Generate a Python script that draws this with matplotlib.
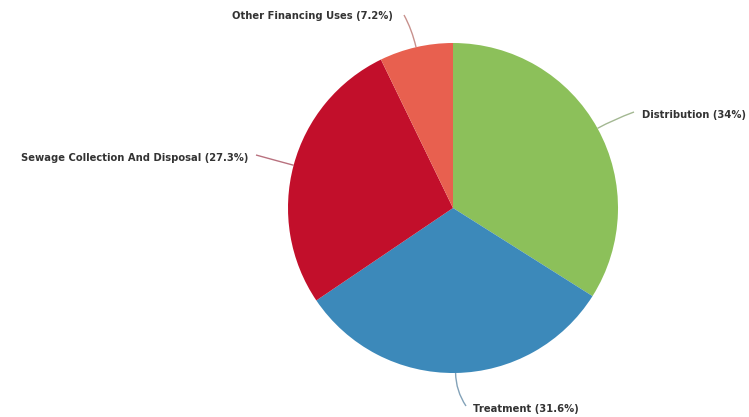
import matplotlib
matplotlib.use("Agg")
import matplotlib.pyplot as plt
import numpy as np
from matplotlib.path import Path
from matplotlib.patches import PathPatch
from matplotlib.colors import to_rgb

categories = ["Distribution", "Treatment", "Sewage Collection And Disposal", "Other Financing Uses"]
shares = [34.0, 31.6, 27.3, 7.2]
pct_labels = ["34%", "31.6%", "27.3%", "7.2%"]
colors = ["#8cc05a", "#3c89ba", "#c20f2b", "#e8604f"]

W, H = 749, 417
fig = plt.figure(figsize=(W / 100, H / 100), dpi=100)
ax = fig.add_axes([0, 0, 1, 1])

cx, cy, r = 453, 209, 165
wedges, _ = ax.pie(shares, colors=colors, startangle=90, counterclock=False,
                   center=(cx, cy), radius=r, normalize=True,
                   wedgeprops=dict(linewidth=0), frame=True)
ax.set_xlim(0, W)
ax.set_ylim(0, H)
ax.set_aspect("equal")
ax.axis("off")

# label anchor (text position, alignment) and connector end near the text
label_layout = [
    dict(xy=(642, H - 115), ha="left", line_end=(634, H - 112)),
    dict(xy=(473, H - 409), ha="left", line_end=(466, H - 406)),
    dict(xy=(248, H - 158), ha="right", line_end=(256, H - 155)),
    dict(xy=(393, H - 16), ha="right", line_end=(404, H - 15)),
]


def muted(c, k=0.5, grey=(0.55, 0.55, 0.58)):
    c = np.array(to_rgb(c))
    return tuple(c * (1 - k) + np.array(grey) * k)


for w, name, pct, col, lay in zip(wedges, categories, pct_labels, colors, label_layout):
    mid = np.deg2rad((w.theta1 + w.theta2) / 2)
    ex, ey = cx + r * np.cos(mid), cy + r * np.sin(mid)
    # point slightly outward along the radial direction for a smooth crook
    ox, oy = cx + (r + 18) * np.cos(mid), cy + (r + 18) * np.sin(mid)
    lx, ly = lay["line_end"]
    path = Path([(ex, ey), (ox, oy), (lx, ly)], [Path.MOVETO, Path.CURVE3, Path.CURVE3])
    ax.add_patch(PathPatch(path, facecolor="none", edgecolor=muted(col), lw=1.0, alpha=0.8))
    ax.text(lay["xy"][0], lay["xy"][1], f"{name} ({pct})", ha=lay["ha"], va="center",
            fontsize=7.2, color="#333333", fontweight="semibold", family="DejaVu Sans")

fig.savefig("out.png", dpi=100, facecolor="white")
